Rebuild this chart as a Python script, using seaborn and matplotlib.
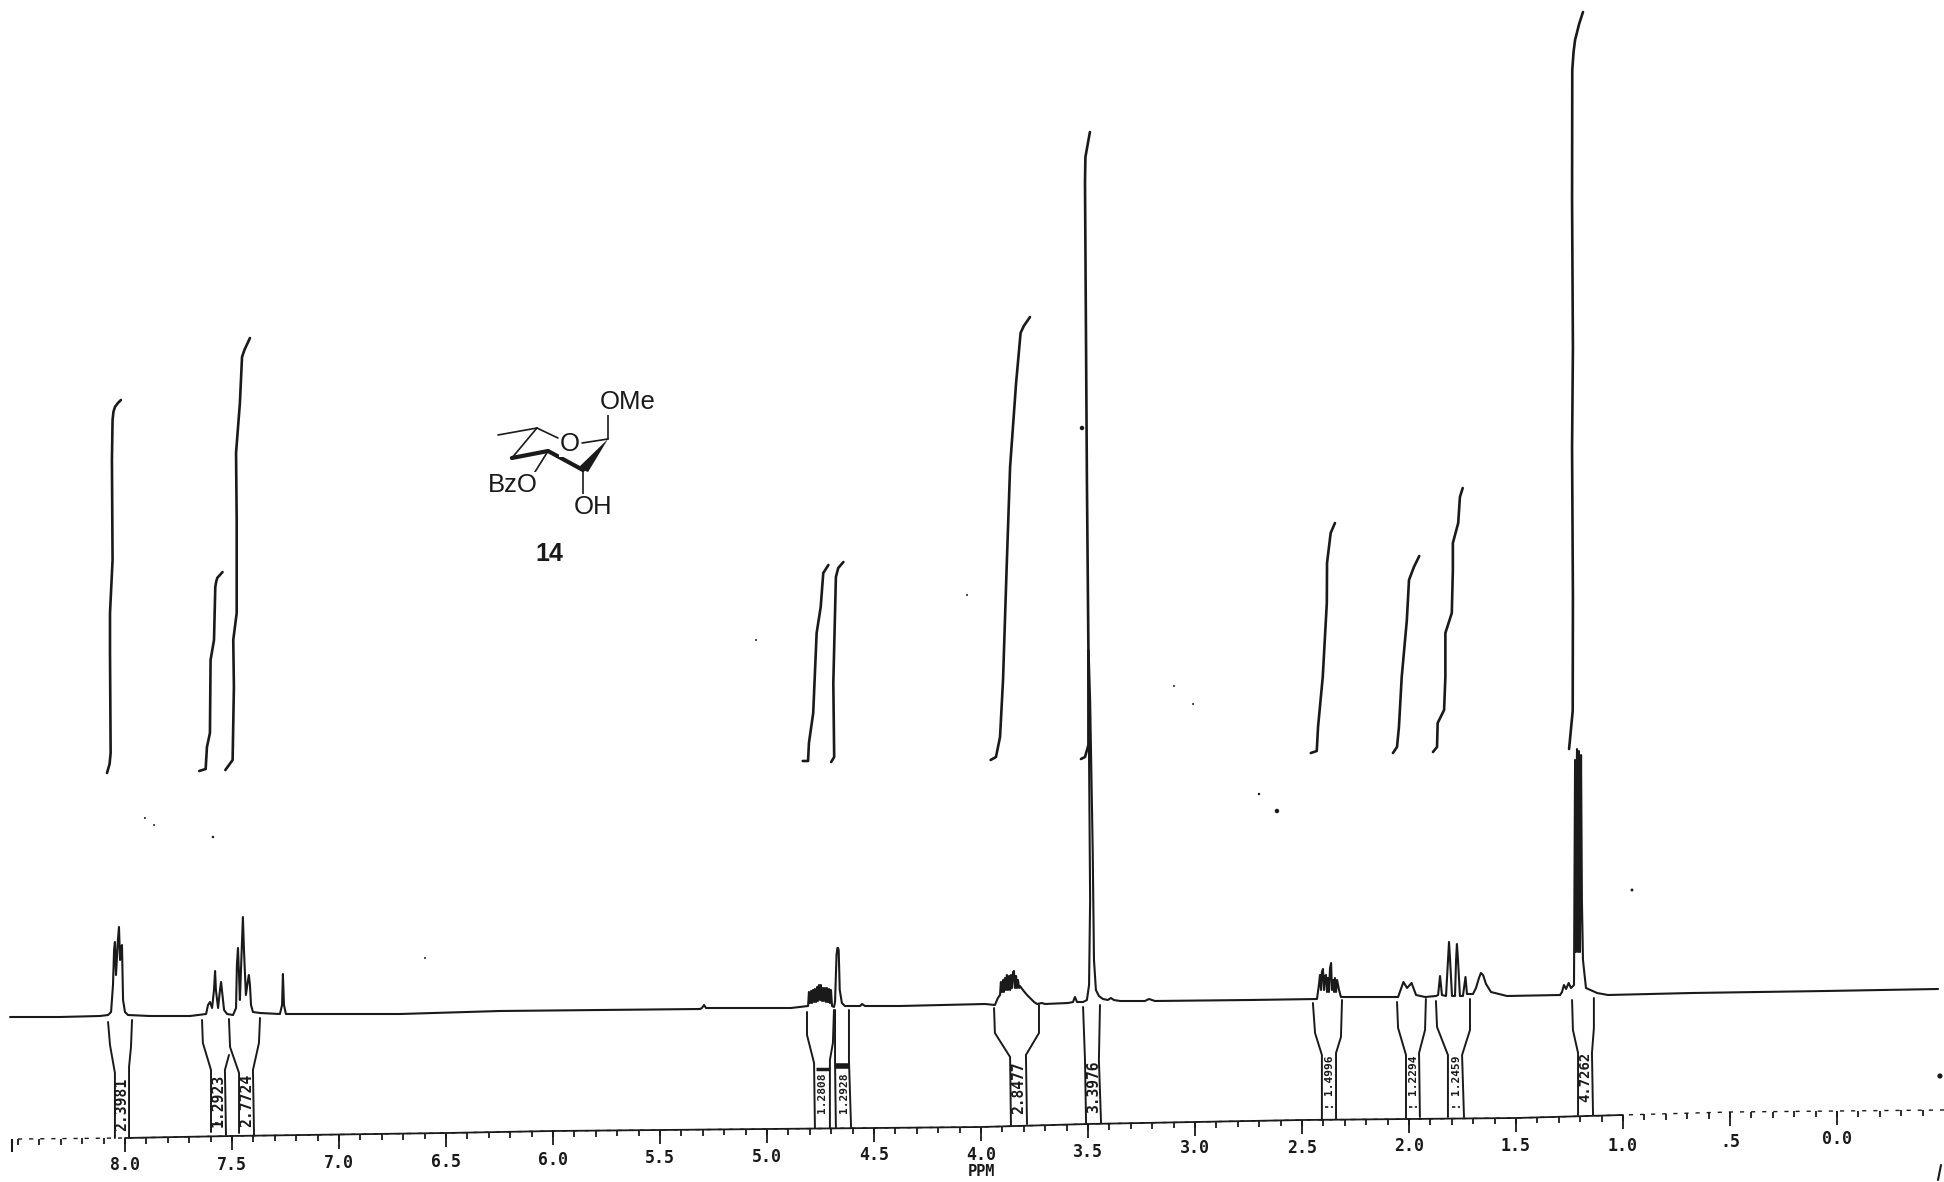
# -*- coding: utf-8 -*-
# 1H NMR trace of compound 14, ppm scale running right to left
import numpy as np
import seaborn as sns
import matplotlib.pyplot as plt

sns.set_theme(style='white')
plt.rcParams['font.family'] = ['Liberation Sans', 'DejaVu Sans']

#%% spectrum trace, height = chart height above bottom of the sheet
trace_ppm = [8.537, 8.304, 8.117, 8.079, 8.065, 8.056, 8.051, 8.047, 8.042, 8.037, 8.033, 8.028, 8.023, 8.019, 8.014, 8.009, 8.000, 7.986, 7.883, 7.696,
             7.621, 7.612, 7.603, 7.593, 7.584, 7.579, 7.575, 7.565, 7.556, 7.551, 7.547, 7.537, 7.523, 7.495,
             7.481, 7.477, 7.472, 7.467, 7.463, 7.458, 7.449, 7.444, 7.435, 7.425, 7.421, 7.416, 7.411, 7.402, 7.369,
             7.276, 7.266, 7.262, 7.257, 7.248, 6.715, 6.248, 5.313, 5.304, 5.294, 5.285, 4.888,
             4.808, 4.804, 4.799, 4.794, 4.790, 4.785, 4.780, 4.776, 4.771, 4.766, 4.762, 4.757, 4.752, 4.748, 4.743, 4.738,
             4.734, 4.729, 4.724, 4.720, 4.715, 4.710, 4.706, 4.701, 4.696, 4.687,
             4.682, 4.675, 4.671, 4.668, 4.665, 4.660, 4.650, 4.636, 4.565, 4.556, 4.542, 4.379, 3.981,
             3.935, 3.921, 3.911, 3.907, 3.902, 3.897, 3.893, 3.888, 3.883, 3.879, 3.874, 3.869, 3.864, 3.860, 3.855, 3.850,
             3.846, 3.841, 3.836, 3.832, 3.827, 3.822, 3.818, 3.804, 3.785, 3.771, 3.752, 3.738, 3.715, 3.701,
             3.593, 3.570, 3.561, 3.551, 3.523, 3.505, 3.495, 3.490, 3.497, 3.500, 3.497, 3.490, 3.478, 3.472, 3.463, 3.449,
             3.430, 3.407, 3.393, 3.379, 3.350, 3.234, 3.215, 3.187, 2.743, 2.430,
             2.421, 2.416, 2.411, 2.407, 2.402, 2.397, 2.393, 2.388, 2.383, 2.379, 2.374, 2.369, 2.364, 2.360, 2.355, 2.350,
             2.346, 2.341, 2.336, 2.327, 2.318, 2.065, 2.051, 2.026, 2.009, 1.988, 1.967, 1.925,
             1.874, 1.864, 1.855, 1.846, 1.827, 1.818, 1.813, 1.808, 1.799, 1.785, 1.780, 1.776, 1.771, 1.762, 1.748,
             1.738, 1.736, 1.729, 1.701, 1.687, 1.673, 1.664, 1.654, 1.640, 1.617, 1.542, 1.294, 1.285, 1.276, 1.266, 1.254,
             1.243, 1.229, 1.224, 1.220, 1.215, 1.210, 1.206, 1.201, 1.196, 1.192, 1.187, 1.173, 1.121, 1.070, 0.678, 0.056, -0.472]
trace_height = [165, 165, 166, 167, 170, 197, 232, 240, 207, 227, 242, 255, 222, 234, 237, 182, 170, 167, 166, 166,
                168, 177, 180, 174, 192, 211, 192, 174, 192, 200, 192, 172, 168, 167,
                174, 217, 234, 207, 182, 212, 265, 232, 187, 202, 207, 197, 177, 170, 169,
                168, 177, 208, 177, 168, 168, 171, 173, 174, 177, 174, 174,
                176, 190, 179, 191, 179, 192, 180, 193, 180, 195, 181, 197, 182, 197, 181, 194,
                181, 194, 180, 194, 180, 193, 179, 192, 176, 175,
                180, 227, 234, 234, 232, 192, 179, 176, 176, 178, 176, 176, 178,
                177, 184, 187, 200, 190, 202, 190, 204, 192, 207, 192, 206, 192, 207, 194, 210,
                211, 194, 206, 194, 202, 194, 196, 192, 187, 184, 180, 178, 179, 178,
                179, 180, 185, 180, 180, 182, 197, 282, 482, 532, 532, 482, 332, 222, 192, 186,
                183, 182, 184, 182, 181, 181, 183, 181, 182, 183,
                197, 207, 192, 210, 213, 192, 206, 207, 190, 204, 190, 214, 219, 192, 202, 190,
                204, 190, 202, 192, 185, 185, 185, 200, 194, 199, 187, 185,
                186, 187, 206, 187, 186, 222, 240, 222, 186, 186, 222, 238, 222, 186, 186,
                202, 205, 188, 188, 194, 204, 209, 207, 198, 190, 186, 187, 190, 197, 193, 199,
                194, 197, 422, 230, 433, 230, 431, 230, 427, 282, 222, 194, 189, 187, 189, 191, 193]

#%% integral curves
int_a_ppm = [8.084, 8.072, 8.067, 8.070, 8.070, 8.058, 8.061, 8.058, 8.054, 8.047, 8.033, 8.019]
int_a_h = [409, 418, 429, 529, 569, 622, 722, 762, 770, 775, 779, 782]
int_b_ppm = [7.653, 7.623, 7.617, 7.603, 7.600, 7.584, 7.578, 7.574, 7.569, 7.544]
int_b_h = [411, 413, 435, 449, 522, 542, 595, 600, 604, 610]
int_c_ppm = [7.531, 7.497, 7.491, 7.494, 7.478, 7.478, 7.481, 7.463, 7.453, 7.442, 7.416]
int_c_h = [412, 422, 495, 542, 569, 662, 729, 779, 825, 832, 844]
int_d_ppm = [4.833, 4.808, 4.804, 4.784, 4.768, 4.749, 4.737, 4.713]
int_d_h = [421, 421, 439, 469, 549, 575, 609, 617]
int_e_ppm = [4.700, 4.686, 4.690, 4.678, 4.672, 4.667, 4.643]
int_e_h = [420, 425, 499, 605, 610, 614, 620]
int_f_ppm = [3.955, 3.930, 3.911, 3.897, 3.880, 3.864, 3.836, 3.825, 3.815, 3.800, 3.771]
int_f_h = [422, 425, 445, 502, 615, 715, 799, 825, 849, 856, 865]
int_g_ppm = [3.533, 3.514, 3.498, 3.498, 3.505, 3.514, 3.512, 3.491]
int_g_h = [423, 425, 437, 532, 700, 1000, 1025, 1050]
int_h_ppm = [2.459, 2.431, 2.425, 2.403, 2.384, 2.383, 2.366, 2.346]
int_h_h = [429, 431, 455, 505, 579, 619, 649, 659]
int_i_ppm = [2.075, 2.056, 2.047, 2.034, 2.010, 2.000, 1.977, 1.952]
int_i_h = [429, 435, 455, 505, 562, 602, 615, 626]
int_j_ppm = [1.888, 1.869, 1.866, 1.836, 1.830, 1.830, 1.800, 1.795, 1.795, 1.770, 1.762, 1.749]
int_j_h = [430, 435, 459, 472, 505, 549, 569, 612, 639, 659, 685, 694]
int_k_ppm = [1.252, 1.235, 1.234, 1.238, 1.234, 1.238, 1.237, 1.231, 1.224, 1.205, 1.187]
int_k_h = [433, 471, 585, 734, 834, 982, 1112, 1130, 1142, 1158, 1170]

integrals = [(int_a_ppm, int_a_h), (int_b_ppm, int_b_h), (int_c_ppm, int_c_h), (int_d_ppm, int_d_h),
             (int_e_ppm, int_e_h), (int_f_ppm, int_f_h), (int_g_ppm, int_g_h), (int_h_ppm, int_h_h),
             (int_i_ppm, int_i_h), (int_j_ppm, int_j_h), (int_k_ppm, int_k_h)]

#%% printout brackets under each region, left and right side
brk_ppm = [[8.079, 8.070, 8.047, 8.047], [7.967, 7.972, 7.981, 7.981],
           [7.640, 7.636, 7.598, 7.598], [7.514, 7.533, 7.528],
           [7.514, 7.509, 7.467, 7.467], [7.369, 7.374, 7.402, 7.397],
           [4.813, 4.813, 4.780, 4.776], [4.687, 4.692, 4.706, 4.706],
           [4.682, 4.682, 4.678], [4.617, 4.617, 4.607],
           [3.939, 3.935, 3.864, 3.860], [3.729, 3.729, 3.790, 3.785],
           [3.523, 3.514, 3.509], [3.444, 3.449, 3.439],
           [2.449, 2.439, 2.407, 2.407], [2.313, 2.318, 2.341, 2.341],
           [2.056, 2.051, 2.014, 2.014], [1.921, 1.925, 1.953, 1.949],
           [1.874, 1.869, 1.818, 1.818], [1.715, 1.715, 1.752, 1.743],
           [1.238, 1.234, 1.210, 1.210], [1.136, 1.136, 1.145, 1.140]]
brk_h = [[160, 137, 109, 44], [162, 135, 115, 44],
         [162, 139, 112, 50], [127, 112, 47],
         [163, 135, 109, 49], [164, 139, 112, 47],
         [170, 147, 119, 54], [172, 139, 122, 54],
         [172, 119, 54], [172, 122, 54],
         [174, 149, 125, 57], [177, 149, 127, 58],
         [175, 122, 59], [177, 122, 59],
         [179, 149, 127, 62], [182, 145, 129, 63],
         [180, 154, 127, 64], [183, 152, 129, 65],
         [181, 155, 127, 65], [183, 152, 127, 65],
         [182, 152, 129, 67], [184, 154, 129, 67]]

integral_values = ['2.3981', '1.2923', '2.7724', '1.2808', '1.2928', '2.8477', '3.3976', '1.4996', '1.2294', '1.2459', '4.7262']
value_ppm = [8.014, 7.563, 7.432, 4.741, 4.642, 3.822, 3.474, 2.374, 1.982, 1.781, 1.175]
value_h = [78, 82, 82, 89, 89, 94, 95, 107, 107, 107, 105]
value_size = [10.6, 10.6, 10.6, 8, 8, 10.5, 10.5, 8, 8, 8, 10]

# the leftover strokes the printer left low in some of the boxes
stroke_ppm = [7.563, 2.374, 1.982, 1.781]
stroke_h = [59, 75, 75, 75]

#%% ppm scale, the paper is a bit skewed so the scale line climbs to the right
scale_ppm = [8.5, 8.0, 7.5, 7.0, 6.5, 6.0, 5.5, 5.0, 4.5, 4.0, 3.5, 3.0, 2.5, 2.0, 1.5, 1.0, 0.5, 0.0, -0.5]
scale_h = [43, 44, 46, 47.5, 49, 51, 52, 53, 54, 55, 58, 60, 62, 63, 64, 67, 70, 71, 72]
tick_ppm = [8.0, 7.5, 7.0, 6.5, 6.0, 5.5, 5.0, 4.5, 4.0, 3.5, 3.0, 2.5, 2.0, 1.5, 1.0, 0.5, 0.0]
tick_text = ['8.0', '7.5', '7.0', '6.5', '6.0', '5.5', '5.0', '4.5', '4.0', '3.5', '3.0', '2.5', '2.0', '1.5', '1.0', '.5', '0.0']
tick_text_h = [17, 17, 19, 20, 22, 24, 25, 27, 27, 30, 34, 34, 36, 36, 36, 40, 43]

#%% structure drawing
bond_ppm = [[6.257, 6.075], [6.075, 5.977], [6.075, 6.192], [5.864, 5.743], [5.743, 5.743], [5.860, 5.860], [6.023, 6.093]]
bond_h = [[747, 754], [754, 744], [754, 724], [739, 743], [743, 767], [712, 687], [731, 707]]
bold_ppm = [6.192, 6.023, 5.860]
bold_h = [724, 731, 712]
wedge_ppm = [5.743, 5.883, 5.836]
wedge_h = [743, 714, 710]
atom_text = ['OMe', 'O', 'BzO', 'OH']
atom_ppm = [5.650, 5.921, 6.187, 5.813]
atom_h = [780, 738, 697, 675]

# specks on the photocopy
speck_ppm = [7.907, 7.864, 7.589, 6.598, 5.051, 4.065, 3.528, 3.098, 3.009, 2.701, 2.617, 0.958, -0.481]
speck_h = [364, 357, 345, 224, 542, 587, 754, 496, 478, 388, 371, 292, 106]
speck_size = [2, 2, 3, 2, 2, 2, 9, 2, 2, 3, 9, 4, 12]

#%%
fig = plt.figure(figsize=(19.44, 11.82), dpi=100)
ax = fig.add_axes([0, 0, 1, 1])

sns.lineplot(x=trace_ppm, y=trace_height, sort=False, estimator=None, color='k', lw=1.5, ax=ax)

for p, h in integrals:
    sns.lineplot(x=p, y=h, sort=False, estimator=None, color='k', lw=1.9, ax=ax)

for p, h in zip(brk_ppm, brk_h):
    sns.lineplot(x=p, y=h, sort=False, estimator=None, color='k', lw=1.4, ax=ax)

for t, p, h, s in zip(integral_values, value_ppm, value_h, value_size):
    ax.text(p, h, t, rotation=90, ha='center', va='center', fontsize=s, fontweight='bold',
            family='DejaVu Sans Mono', color='k')
for p, h in zip(stroke_ppm, stroke_h):
    ax.plot([p + 0.018, p - 0.018], [h, h], color='k', lw=1.2, ls=(0, (2, 1.5)))
# dark band on top of the two narrow boxes
ax.plot([4.676, 4.611], [116, 116], color='k', lw=4, solid_capstyle='butt')
ax.plot([4.770, 4.712], [113, 113], color='k', lw=2.5, solid_capstyle='butt')

# scale line with a tick every 0.1 ppm, solid in the middle and broken at both ends
minor = np.arange(-0.4, 8.55, 0.1)
minor_h = np.interp(minor, scale_ppm[::-1], scale_h[::-1])
mid = (np.array(scale_ppm) <= 8.1) & (np.array(scale_ppm) >= 1.0)
ax.plot(np.array(scale_ppm)[mid], np.array(scale_h)[mid], color='k', lw=1.3)
ax.plot(scale_ppm, scale_h, color='k', lw=1.0, ls=(0, (3, 5)))
ax.vlines(minor, minor_h - 6, minor_h, color='k', lw=1.3)
major_h = np.interp(tick_ppm, scale_ppm[::-1], scale_h[::-1])
ax.vlines(tick_ppm, major_h - 14, major_h, color='k', lw=1.3)
ax.vlines(8.53, 30, 43, color='k', lw=1.5)
for t, p, h in zip(tick_text, tick_ppm, tick_text_h):
    ax.text(p, h, t, ha='center', va='center', fontsize=12, fontweight='bold', family='DejaVu Sans Mono', color='k')
ax.text(4.0, 11, 'PPM', ha='center', va='center', fontsize=11, fontweight='bold', family='DejaVu Sans Mono', color='k')

# molecule
for p, h in zip(bond_ppm, bond_h):
    ax.plot(p, h, color='k', lw=1.2, solid_capstyle='round')
ax.plot(bold_ppm, bold_h, color='k', lw=3.0, solid_capstyle='round')
ax.fill(wedge_ppm, wedge_h, color='k', lw=0)
for t, p, h in zip(atom_text, atom_ppm, atom_h):
    ax.text(p, h, t, ha='center', va='center', fontsize=18.5, color='k',
            bbox=dict(fc='white', ec='none', pad=0.5))
ax.text(6.019, 628, '14', ha='center', va='center', fontsize=18, fontweight='bold', color='k')

sns.scatterplot(x=speck_ppm, y=speck_h, size=speck_size, sizes=(2, 14), color='k', linewidth=0, legend=False, ax=ax)
ax.plot([-0.486, -0.472], [17, 2], color='k', lw=1.5)

ax.set_xlim(8.584, -0.5)
ax.set_ylim(0, 1182)
ax.axis('off')
fig.savefig('out.png', dpi=100, facecolor='white')
